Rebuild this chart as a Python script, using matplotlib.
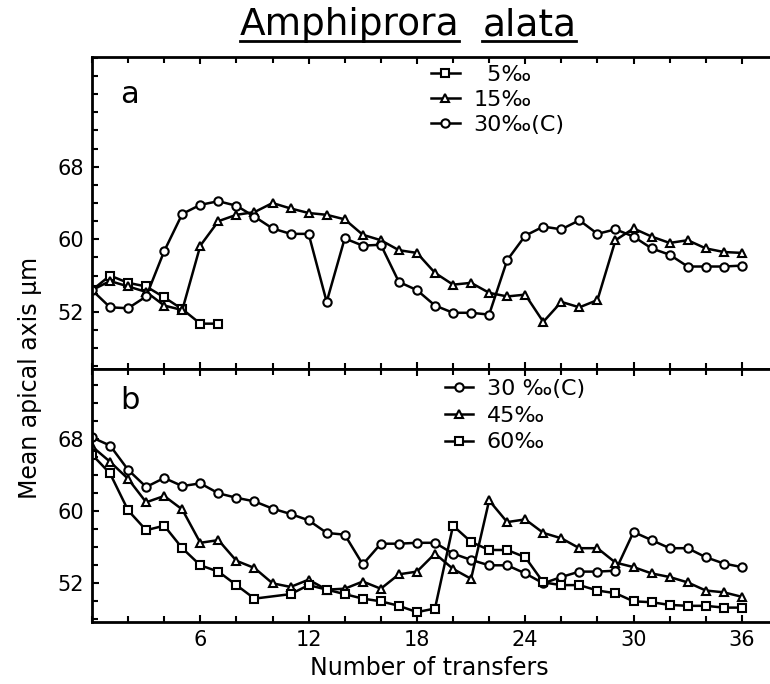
import numpy as np
import matplotlib.pyplot as plt
from matplotlib.lines import Line2D
from matplotlib.ticker import FixedLocator, MultipleLocator

plt.rcParams['font.family'] = 'DejaVu Sans'

# mean apical axis (um) per transfer, panel a
a_x5 = np.arange(8)
a_5 = [54.4, 56.0, 55.2, 54.8, 53.6, 52.3, 50.7, 50.7]
a_x = np.arange(37)
a_15 = [54.4, 55.4, 54.8, 54.2, 52.7, 52.2, 59.3, 62.0, 62.7, 63.0,
        64.0, 63.4, 62.9, 62.7, 62.2, 60.5, 59.9, 58.8, 58.5, 56.3,
        55.0, 55.2, 54.1, 53.7, 53.9, 50.9, 53.1, 52.5, 53.3, 59.9,
        61.2, 60.3, 59.6, 59.9, 59.0, 58.6, 58.5]
a_30 = [54.4, 52.5, 52.4, 53.7, 58.7, 62.8, 63.8, 64.2, 63.7, 62.5,
        61.2, 60.6, 60.6, 53.1, 60.1, 59.3, 59.4, 55.3, 54.4, 52.7,
        51.9, 51.9, 51.7, 57.7, 60.4, 61.4, 61.1, 62.1, 60.6, 61.1,
        60.3, 59.0, 58.3, 57.0, 57.0, 57.0, 57.1]

# panel b
b_x = np.arange(37)
b_30 = [68.2, 67.3, 64.6, 62.7, 63.7, 62.8, 63.1, 62.0, 61.5, 61.1,
        60.3, 59.7, 59.0, 57.6, 57.4, 54.1, 56.4, 56.4, 56.5, 56.5,
        55.3, 54.6, 54.0, 54.0, 53.1, 52.0, 52.7, 53.3, 53.3, 53.4,
        57.7, 56.8, 55.9, 55.9, 54.9, 54.2, 53.8]
b_45 = [67.2, 65.5, 63.6, 61.0, 61.7, 60.2, 56.5, 56.8, 54.5, 53.7,
        52.0, 51.6, 52.4, 51.3, 51.4, 52.2, 51.4, 53.0, 53.3, 55.3,
        53.6, 52.5, 61.2, 58.8, 59.1, 57.6, 57.0, 55.9, 55.9, 54.3,
        53.8, 53.1, 52.7, 52.1, 51.2, 51.0, 50.5]
b_x60 = [0, 1, 2, 3, 4, 5, 6, 7, 8, 9, 11, 12, 13, 14, 15, 16, 17, 18,
         19, 20, 21, 22, 23, 24, 25, 26, 27, 28, 29, 30, 31, 32, 33, 34,
         35, 36]
b_60 = [66.3, 64.2, 60.1, 57.9, 58.4, 55.9, 54.0, 53.3, 51.8, 50.3,
        50.8, 51.8, 51.3, 50.8, 50.3, 50.0, 49.5, 48.8, 49.2, 58.4,
        56.6, 55.7, 55.7, 54.9, 52.1, 51.8, 51.8, 51.2, 50.9, 50.0,
        49.9, 49.6, 49.5, 49.5, 49.3, 49.3]

fig = plt.figure(figsize=(7.7, 6.84), dpi=100)
ax_a = fig.add_axes([0.1195, 0.4605, 0.8805, 0.4562])
ax_b = fig.add_axes([0.1195, 0.0906, 0.8805, 0.3699])


def style(ax, ylim):
    ax.set_xlim(0, 37.56)
    ax.set_ylim(*ylim)
    ax.spines['right'].set_visible(False)
    for s in ['left', 'top', 'bottom']:
        ax.spines[s].set_linewidth(2)
    ax.yaxis.set_major_locator(FixedLocator([52, 60, 68]))
    ax.yaxis.set_minor_locator(MultipleLocator(2))
    ax.xaxis.set_major_locator(FixedLocator([6, 12, 18, 24, 30, 36]))
    ax.xaxis.set_minor_locator(MultipleLocator(2))
    ax.tick_params(which='both', direction='in', top=True, width=1.5)
    ax.tick_params(which='major', length=5, labelsize=15, pad=6)
    ax.tick_params(which='minor', length=4)


def series(ax, x, y, marker, label):
    ax.plot(x, y, '-', color='black', lw=1.8, marker=marker, ms=6,
            mfc='white', mec='black', mew=1.5, label=label)


style(ax_a, (45.7, 80.1))
style(ax_b, (47.7, 75.8))
ax_a.tick_params(labelbottom=False)

series(ax_a, a_x5, a_5, 's', '\u20075‰')
series(ax_a, a_x, a_15, '^', '15‰')
series(ax_a, a_x, a_30, 'o', '30‰(C)')

series(ax_b, b_x, b_30, 'o', '30 ‰(C)')
series(ax_b, b_x, b_45, '^', '45‰')
series(ax_b, b_x60, b_60, 's', '60‰')

for ax, anchor, gap in [(ax_a, (0.50, 0.975), 0.22), (ax_b, (0.52, 0.96), 0.30)]:
    ax.legend(loc='upper left', bbox_to_anchor=anchor, frameon=False,
              fontsize=16, handlelength=1.3, handletextpad=0.6,
              labelspacing=gap, borderpad=0, borderaxespad=0)

ax_a.text(0.056, 0.88, 'a', transform=ax_a.transAxes, fontsize=22,
          ha='center', va='center')
ax_b.text(0.056, 0.877, 'b', transform=ax_b.transAxes, fontsize=22,
          ha='center', va='center')

fig.text(0.039, 0.447, 'Mean apical axis µm', rotation=90, ha='center',
         va='center', fontsize=17)
fig.text(0.558, 0.023, 'Number of transfers', ha='center', va='center',
         fontsize=17)

# title, each word underlined separately, centred as a pair
t1 = fig.text(0.3, 0.963, 'Amphiprora', ha='left', va='center', fontsize=27)
t2 = fig.text(0.6, 0.963, 'alata', ha='left', va='center', fontsize=27)
fig.canvas.draw()
inv = fig.transFigure.inverted()
w1 = t1.get_window_extent().transformed(inv).width
w2 = t2.get_window_extent().transformed(inv).width
word_gap = 0.03
x_start = 0.530 - (w1 + word_gap + w2) / 2
t1.set_x(x_start)
t2.set_x(x_start + w1 + word_gap)
fig.canvas.draw()
for t in (t1, t2):
    bb = t.get_window_extent().transformed(inv)
    fig.add_artist(Line2D([bb.x0, bb.x1], [bb.y0 + 0.003, bb.y0 + 0.003],
                          transform=fig.transFigure, color='black', lw=2))

fig.savefig('out.png', dpi=100)
